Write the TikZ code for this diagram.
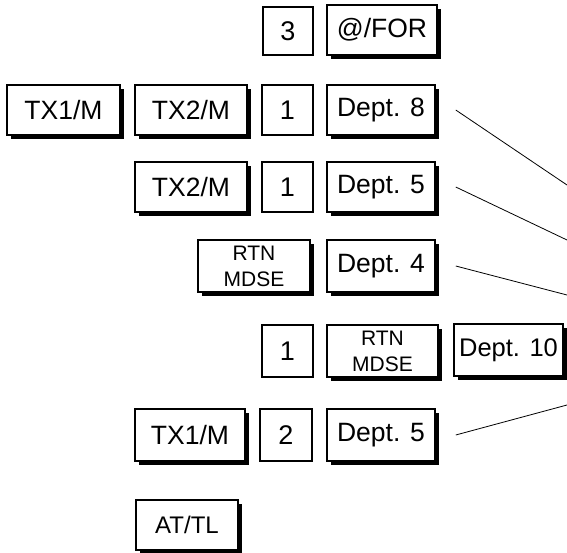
\documentclass[tikz,border=0pt]{standalone}
\usepackage{fontspec}
\setmainfont{Liberation Sans}
\usetikzlibrary{shadows,calc}
\begin{document}
\begin{tikzpicture}[x=1pt,y=-1pt,
  keybase/.style={draw=black, line width=1.5pt, fill=white, inner sep=0pt, align=center},
  numkey/.style={keybase, minimum width=51pt, minimum height=50pt, font=\fontsize{27}{29}\selectfont},
  fkey/.style={keybase, minimum width=108pt, minimum height=50pt,
    drop shadow={shadow xshift=4pt, shadow yshift=-4pt, fill=black, opacity=1}},
  txtext/.style={font=\fontsize{26.5}{28}\selectfont},
  depttext/.style={font=\fontsize{26.5}{28}\selectfont},
  rtntext/.style={font=\fontsize{21}{26}\selectfont},
  conn/.style={draw=black, line width=0.8pt}]
\useasboundingbox (0,0) rectangle (567,553);
% row 1
\node[numkey, minimum width=50pt, minimum height=48pt] (k3) at (288,31) {3};
\node[fkey, depttext, minimum width=110pt] (atfor) at (382,30) {@/FOR};
% row 2
\node[fkey, txtext, minimum width=113pt] (tx1a) at (63.5,110) {TX1/M};
\node[fkey, txtext, minimum width=112pt] (tx2a) at (191,110) {TX2/M};
\node[numkey] (onea) at (287.5,110) {1};
\node[fkey, depttext] (d8) at (381,110) {Dept. 8};
% row 3
\node[fkey, txtext, minimum width=112pt] (tx2b) at (191,187) {TX2/M};
\node[numkey] (oneb) at (287.5,187) {1};
\node[fkey, depttext] (d5a) at (381,187) {Dept. 5};
% row 4
\node[fkey, rtntext, minimum width=112pt, minimum height=52pt] (rtna) at (254,266) {RTN\\MDSE};
\node[fkey, depttext, minimum height=52pt] (d4) at (381,266) {Dept. 4};
% row 5
\node[numkey, minimum height=52pt] (onec) at (287.5,351) {1};
\node[fkey, rtntext, minimum width=111pt, minimum height=52pt] (rtnb) at (382.5,351) {RTN\\MDSE};
\node[fkey, font=\fontsize{25.5}{27}\selectfont, minimum width=109pt, minimum height=52pt] (d10) at (508.5,350) {Dept. 10};
% row 6
\node[fkey, txtext, minimum width=110pt, minimum height=52pt] (tx1b) at (190,435) {TX1/M};
\node[numkey, minimum width=52pt, minimum height=52pt] (two) at (286,435) {2};
\node[fkey, depttext, minimum height=52pt] (d5b) at (381,435) {Dept. 5};
% row 7
\node[fkey, font=\fontsize{24}{26}\selectfont, minimum width=102pt] (attl) at (187,525) {AT/TL};
% connectors
\coordinate (e8) at (567,185);
\coordinate (e5a) at (567,240);
\coordinate (e4) at (567,295);
\coordinate (e5b) at (567,405);
\draw[conn] ($(d8.east)+(20,0)$) -- (e8);
\draw[conn] ($(d5a.east)+(20,0)$) -- (e5a);
\draw[conn] ($(d4.east)+(20,0)$) -- (e4);
\draw[conn] ($(d5b.east)+(20,0)$) -- (e5b);
\end{tikzpicture}
\end{document}
